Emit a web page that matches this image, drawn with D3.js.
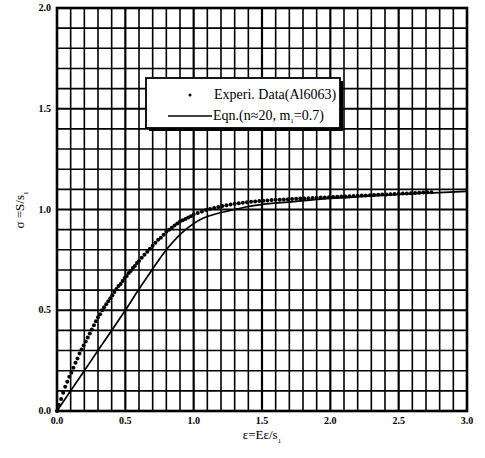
<!DOCTYPE html>
<html>
<head>
<meta charset="utf-8">
<script src="https://cdn.jsdelivr.net/npm/d3@7"></script>
<style>
  html, body { margin: 0; padding: 0; background: #fff; }
  svg { display: block; }
</style>
</head>
<body>
<svg id="chart" width="485" height="458"></svg>
<script>
// Normalized stress-strain data for Al6063 (experimental readings)
const expStrain = [
  0.000,0.015,0.030,0.045,0.060,0.075,0.090,0.105,0.120,0.135,0.150,0.165,0.180,0.195,0.210,0.225,0.240,0.255,0.270,0.285,
  0.300,0.315,0.330,0.345,0.360,0.375,0.390,0.405,0.420,0.435,0.450,0.465,0.480,0.495,0.510,0.525,0.540,0.555,0.570,0.585,
  0.60,0.62,0.64,0.66,0.68,0.70,0.72,0.74,0.76,0.78,0.80,0.82,0.84,0.86,0.88,0.90,0.92,0.94,0.96,0.98,
  1.00,1.03,1.06,1.09,1.12,1.15,1.18,1.21,1.24,1.27,1.30,1.33,1.36,1.39,1.42,1.45,1.48,1.51,1.54,1.57,
  1.60,1.63,1.66,1.69,1.72,1.75,1.78,1.81,1.84,1.87,1.90,1.93,1.96,1.99,2.02,2.05,2.08,2.11,2.14,2.17,
  2.20,2.23,2.26,2.29,2.32,2.35,2.38,2.41,2.44,2.47,2.50,2.53,2.56,2.59,2.62,2.65,2.68,2.71,2.74];
const expStress = [
  0.000,0.030,0.060,0.090,0.120,0.145,0.170,0.190,0.215,0.240,0.260,0.285,0.305,0.325,0.345,0.365,0.385,0.405,0.425,0.445,
  0.465,0.480,0.500,0.515,0.530,0.545,0.560,0.575,0.590,0.605,0.620,0.630,0.645,0.660,0.670,0.685,0.695,0.710,0.720,0.735,
  0.745,0.760,0.775,0.790,0.805,0.820,0.835,0.850,0.860,0.875,0.890,0.900,0.910,0.920,0.930,0.940,0.947,0.953,0.960,0.967,
  0.975,0.983,0.990,0.997,1.003,1.008,1.013,1.017,1.021,1.025,1.028,1.031,1.034,1.036,1.038,1.040,1.042,1.044,1.045,1.047,
  1.048,1.049,1.050,1.051,1.052,1.053,1.054,1.055,1.056,1.057,1.058,1.059,1.060,1.061,1.062,1.063,1.064,1.065,1.066,1.067,
  1.068,1.069,1.070,1.071,1.072,1.073,1.074,1.075,1.076,1.077,1.078,1.079,1.080,1.081,1.082,1.083,1.084,1.085,1.086];

// Model equation curve
const eqnStrain = [0.00,0.10,0.20,0.30,0.40,0.50,0.60,0.70,0.80,0.85,0.90,0.95,1.00,1.05,1.10,1.20,1.30,1.40,1.50,1.75,2.00,2.25,2.50,2.75,3.00];
const eqnStress = [0.00,0.10,0.20,0.30,0.40,0.50,0.605,0.705,0.80,0.84,0.875,0.905,0.93,0.95,0.965,0.985,1.00,1.015,1.025,1.04,1.055,1.065,1.075,1.083,1.09];

const xTicks = [0, 0.5, 1.0, 1.5, 2.0, 2.5, 3.0];
const yTicks = [0, 0.5, 1.0, 1.5, 2.0];
const legendLabels = ["Experi. Data(Al6063)", "Eqn.(n\u224820, m", "=0.7)"];

const serif = "'Liberation Serif', 'Times New Roman', 'DejaVu Serif', serif";

const svg = d3.select("#chart");
const padL = 57, padR = 467, padT = 8, padB = 411;

const x = d3.scaleLinear().domain([0, 3]).range([padL, padR]);
const y = d3.scaleLinear().domain([0, 2]).range([padB, padT]);

// grid: every 0.1, heavier every 0.5
const g = svg.append("g");
d3.range(1, 30).forEach(i => {
  const v = i / 10;
  g.append("line")
    .attr("x1", x(v)).attr("x2", x(v)).attr("y1", y(0)).attr("y2", y(2))
    .attr("stroke", "#000").attr("stroke-width", i % 5 === 0 ? 2.2 : 1.6);
});
d3.range(1, 20).forEach(i => {
  const v = i / 10;
  g.append("line")
    .attr("x1", x(0)).attr("x2", x(3)).attr("y1", y(v)).attr("y2", y(v))
    .attr("stroke", "#000").attr("stroke-width", i % 5 === 0 ? 2.2 : 1.6);
});

// frame
svg.append("rect")
  .attr("x", x(0)).attr("y", y(2))
  .attr("width", x(3) - x(0)).attr("height", y(0) - y(2))
  .attr("fill", "none").attr("stroke", "#000").attr("stroke-width", 2.6);

// tick labels
svg.append("g").selectAll("text").data(xTicks).join("text")
  .attr("x", d => x(d)).attr("y", padB + 13)
  .attr("text-anchor", "middle")
  .style("font-family", serif).attr("font-size", 10).attr("font-weight", "bold")
  .text(d => d.toFixed(1));

svg.append("g").selectAll("text").data(yTicks).join("text")
  .attr("x", padL - 6).attr("y", d => y(d) + 3)
  .attr("text-anchor", "end")
  .style("font-family", serif).attr("font-size", 10).attr("font-weight", "bold")
  .text(d => d.toFixed(1));

// axis titles
const xt = svg.append("text")
  .attr("x", 262).attr("y", 439)
  .attr("text-anchor", "middle").style("font-family", serif).attr("font-size", 13);
xt.append("tspan").text("\u03b5=E\u03b5/s");
xt.append("tspan").attr("font-size", 7).attr("dy", 4).text("1");

const yt = svg.append("text")
  .attr("transform", "translate(24,210) rotate(-90)")
  .attr("text-anchor", "middle").style("font-family", serif).attr("font-size", 13);
yt.append("tspan").text("\u03c3 =S/s");
yt.append("tspan").attr("font-size", 7).attr("dy", 4).text("1");

// equation curve
const line = d3.line().x(d => x(d[0])).y(d => y(d[1])).curve(d3.curveMonotoneX);
svg.append("path")
  .datum(eqnStrain.map((e, i) => [e, eqnStress[i]]))
  .attr("d", line)
  .attr("fill", "none").attr("stroke", "#000").attr("stroke-width", 1.7);

// experimental points
svg.append("g").selectAll("circle")
  .data(expStrain.map((e, i) => [e, expStress[i]]))
  .join("circle")
  .attr("cx", d => x(d[0])).attr("cy", d => y(d[1]))
  .attr("r", 2).attr("fill", "#000");

// legend box with drop shadow
const lg = svg.append("g");
lg.append("rect").attr("x", 149).attr("y", 81).attr("width", 194).attr("height", 50).attr("fill", "#000");
lg.append("rect").attr("x", 146).attr("y", 78).attr("width", 194).attr("height", 50)
  .attr("fill", "#fff").attr("stroke", "#000").attr("stroke-width", 1.8);
lg.append("circle").attr("cx", 190).attr("cy", 95).attr("r", 1.5).attr("fill", "#000");
lg.append("text").attr("x", 214).attr("y", 99).style("font-family", serif).attr("font-size", 14).text(legendLabels[0]);
lg.append("line").attr("x1", 168).attr("x2", 212).attr("y1", 116).attr("y2", 116)
  .attr("stroke", "#000").attr("stroke-width", 1.6);
const l2 = lg.append("text").attr("x", 213).attr("y", 120).style("font-family", serif).attr("font-size", 14);
l2.append("tspan").text(legendLabels[1]);
l2.append("tspan").attr("font-size", 7).attr("dy", 3).text("1");
l2.append("tspan").attr("dy", -3).text(legendLabels[2]);
</script>
</body>
</html>
